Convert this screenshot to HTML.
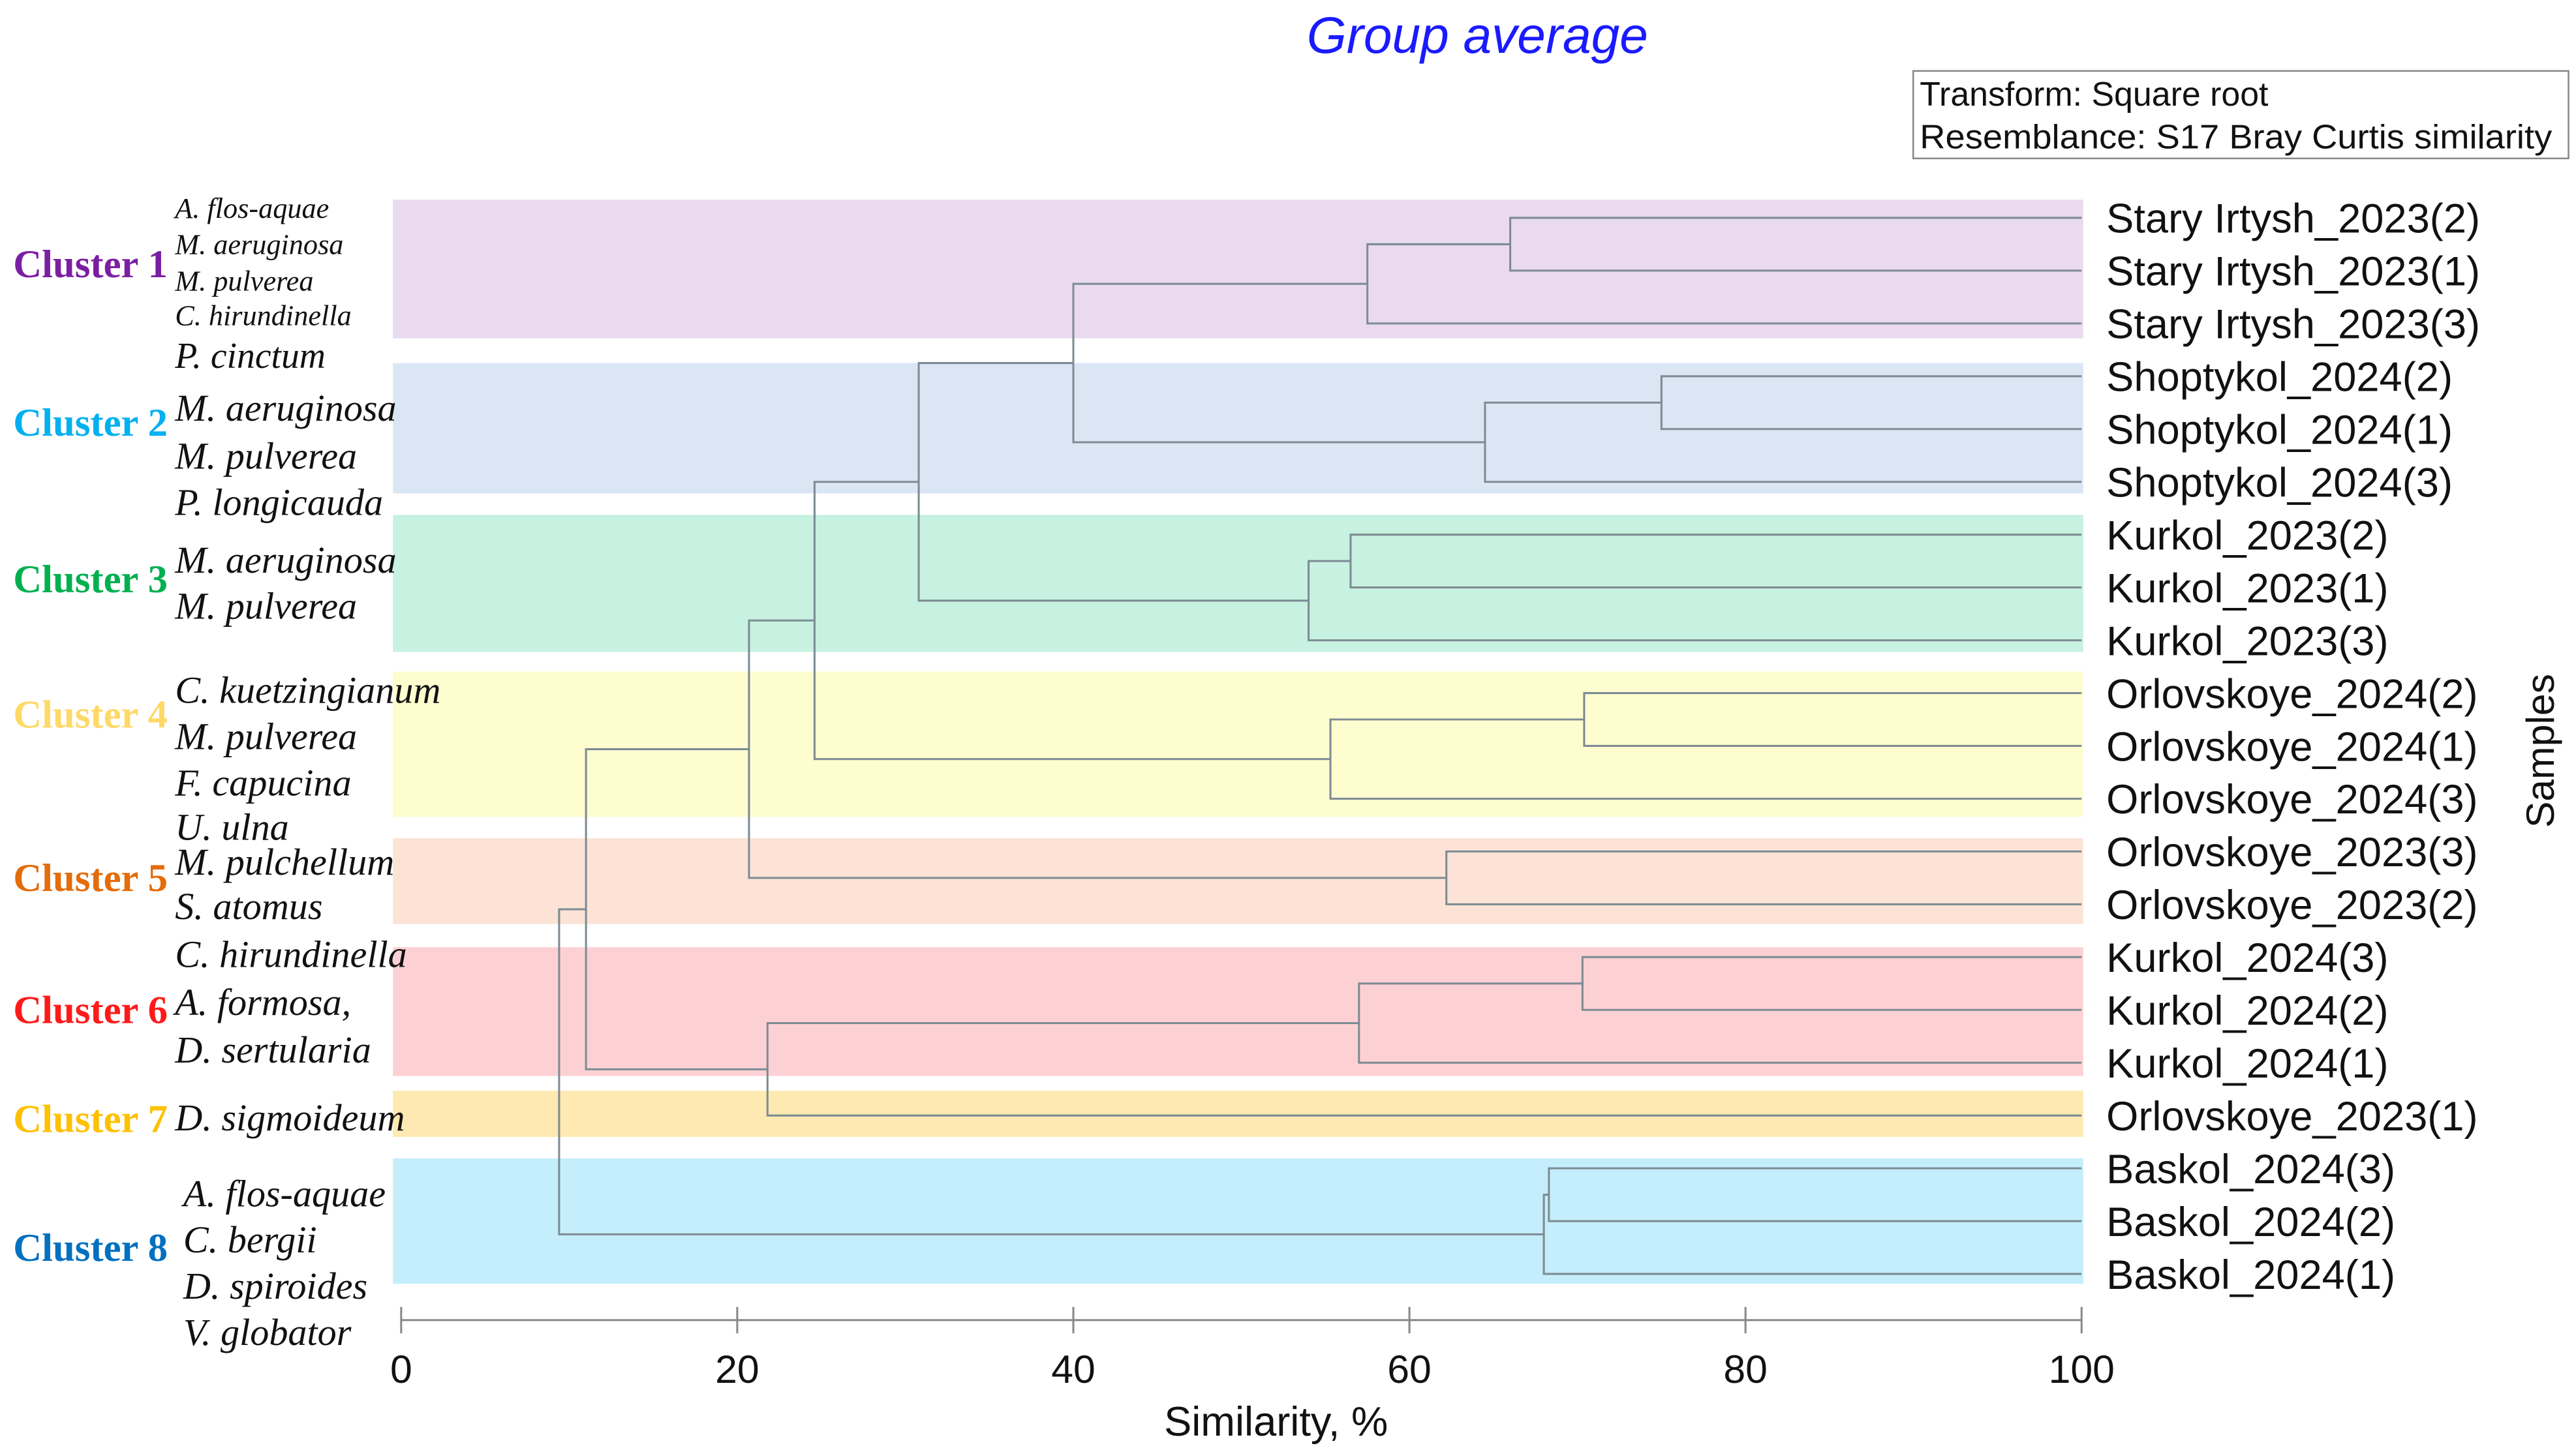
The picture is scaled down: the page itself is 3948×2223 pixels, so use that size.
<!DOCTYPE html>
<html><head><meta charset="utf-8"><style>
html,body{margin:0;padding:0;background:#fff;}
svg{display:block;}
</style></head><body>
<svg id="chart" width="3948" height="2223" viewBox="0 0 1560.5 878.7" xmlns="http://www.w3.org/2000/svg">
<g id="bands"></g>
<g id="tree"></g>
<g id="leafLabels"></g>
<g id="axis"></g>
<g id="left"></g>
<text x="895" y="32" text-anchor="middle" font-family="Liberation Sans, sans-serif" font-style="italic" font-size="31" fill="#1a1aff">Group average</text>
<g>
<rect x="1159" y="43" width="397" height="53" fill="#fff" stroke="#888" stroke-width="1"/>
<text x="1163" y="64" font-family="Liberation Sans, sans-serif" font-size="20.5" fill="#111">Transform: Square root</text>
<text x="1163" y="90" font-family="Liberation Sans, sans-serif" font-size="20.5" fill="#111" textLength="383" lengthAdjust="spacingAndGlyphs">Resemblance: S17 Bray Curtis similarity</text>
</g>
<text transform="translate(1547,455) rotate(-90)" text-anchor="middle" font-family="Liberation Sans, sans-serif" font-size="24" fill="#111">Samples</text>
<text x="773" y="870" text-anchor="middle" font-family="Liberation Sans, sans-serif" font-size="25" fill="#111">Similarity, %</text>
</svg>
<script>
const leaves = ["Stary Irtysh_2023(2)","Stary Irtysh_2023(1)","Stary Irtysh_2023(3)","Shoptykol_2024(2)","Shoptykol_2024(1)","Shoptykol_2024(3)","Kurkol_2023(2)","Kurkol_2023(1)","Kurkol_2023(3)","Orlovskoye_2024(2)","Orlovskoye_2024(1)","Orlovskoye_2024(3)","Orlovskoye_2023(3)","Orlovskoye_2023(2)","Kurkol_2024(3)","Kurkol_2024(2)","Kurkol_2024(1)","Orlovskoye_2023(1)","Baskol_2024(3)","Baskol_2024(2)","Baskol_2024(1)"];
// merges: [left node, right node, similarity]; leaf ids 0..20, merged nodes 21+
const mergeLeft  = [0, 21, 3, 23, 22, 6, 26, 25, 9, 29, 28, 12, 31, 14, 34, 35, 18, 37, 33, 39];
const mergeRight = [1, 2,  4, 5,  24, 7, 8,  27, 10, 11, 30, 13, 32, 15, 16, 17, 19, 20, 36, 38];
const mergeSim   = [66, 57.5, 75, 64.5, 40, 56.5, 54, 30.8, 70.4, 55.3, 24.6, 62.2, 20.7, 70.3, 57, 21.8, 68.3, 68, 11, 9.4];
const ticks = [0, 20, 40, 60, 80, 100];
const clusterNames = ["Cluster 1","Cluster 2","Cluster 3","Cluster 4","Cluster 5","Cluster 6","Cluster 7","Cluster 8"];
const clusterColors = ["#7b1fa2","#00b0f0","#00b050","#ffd966","#e46c0a","#ff1a1a","#ffc000","#0070c0"];
const bandColors = ["#e9daef","#dbe6f5","#c7f1e0","#fefdd0","#fce3d6","#fdd1d4","#fee9b2","#c5eefc"];
const bandTop = [121,220,312,407,508,574,661,702];
const bandBot = [205,299,395,495,560,652,689,778];
const clusterY = [160,256,351,433,532,612,678,756];
const species = [
 [["A. flos-aquae",125,17.5],["M. aeruginosa",147,17.5],["M. pulverea",169,17.5],["C. hirundinella",190,17.5],["P. cinctum",216,22]],
 [["M. aeruginosa",248,23],["M. pulverea",277,23],["P. longicauda",305,23]],
 [["M. aeruginosa",340,23],["M. pulverea",368,23]],
 [["C. kuetzingianum",419,23],["M. pulverea",447,23],["F. capucina",475,23],["U. ulna",502,23]],
 [["M. pulchellum",523,23],["S. atomus",550,23]],
 [["C. hirundinella",579,23],["A. formosa,",608,23],["D. sertularia",637,23]],
 [["D. sigmoideum",678,23]],
 [["A. flos-aquae",724,23],["C. bergii",752,23],["D. spiroides",780,23],["V. globator",808,23]]
];
const NS="http://www.w3.org/2000/svg";
const X0=243, X100=1261, Y0=132, DY=32;
function xs(v){return X0+(X100-X0)*v/100;}
function ys(i){return Y0+DY*i;}
function mk(tag,attrs,parent){const e=document.createElementNS(NS,tag);for(const k in attrs)e.setAttribute(k,attrs[k]);parent.appendChild(e);return e;}
const gB=document.getElementById('bands'),gT=document.getElementById('tree'),gL=document.getElementById('leafLabels'),gA=document.getElementById('axis'),gLeft=document.getElementById('left');
bandColors.forEach((c,i)=>{
 const r=mk('rect',{x:238,y:bandTop[i],width:1024,height:bandBot[i]-bandTop[i],fill:c},gB);
 
 
});
const nodeY=[],nodeX=[];
leaves.forEach((n,i)=>{nodeY[i]=ys(i);nodeX[i]=xs(100);});
const stroke="#7d8b93";
leaves.forEach((n,i)=>{
 const t=mk('text',{x:1276,y:ys(i)+9,'font-family':'Liberation Sans, sans-serif','font-size':25,fill:'#111'},gL);
 t.textContent=n;
 
 
});
mergeSim.forEach((s,k)=>{
 const a=mergeLeft[k],b=mergeRight[k],id=leaves.length+k,x=xs(s);
 nodeY[id]=(nodeY[a]+nodeY[b])/2;nodeX[id]=x;
 const p=mk('path',{d:`M${nodeX[a]},${nodeY[a]}H${x}V${nodeY[b]}H${nodeX[b]}`,fill:'none',stroke:stroke,'stroke-width':1.2},gT);
 
 
});
const ax=mk('line',{x1:xs(0),y1:800,x2:xs(100),y2:800,stroke:'#888','stroke-width':1.2},gA);


ticks.forEach(v=>{
 const l=mk('line',{x1:xs(v),y1:792,x2:xs(v),y2:808,stroke:'#888','stroke-width':1.2},gA);
 
 
 const t=mk('text',{x:xs(v),y:838,'text-anchor':'middle','font-family':'Liberation Sans, sans-serif','font-size':24,fill:'#111'},gA);
 t.textContent=v;
 
 
});
clusterNames.forEach((n,i)=>{
 const t=mk('text',{x:8,y:clusterY[i]+8,'font-family':'Liberation Serif, serif','font-weight':'bold','font-size':24,fill:clusterColors[i]},gLeft);
 t.textContent=n;
 
 
 species[i].forEach(sp=>{
  const s=mk('text',{x:i==7?111:106,y:sp[1]+7,'font-family':'Liberation Serif, serif','font-style':'italic','font-size':sp[2],fill:'#111'},gLeft);
  s.textContent=sp[0];
  
  
 });
});
</script>
</body></html>
